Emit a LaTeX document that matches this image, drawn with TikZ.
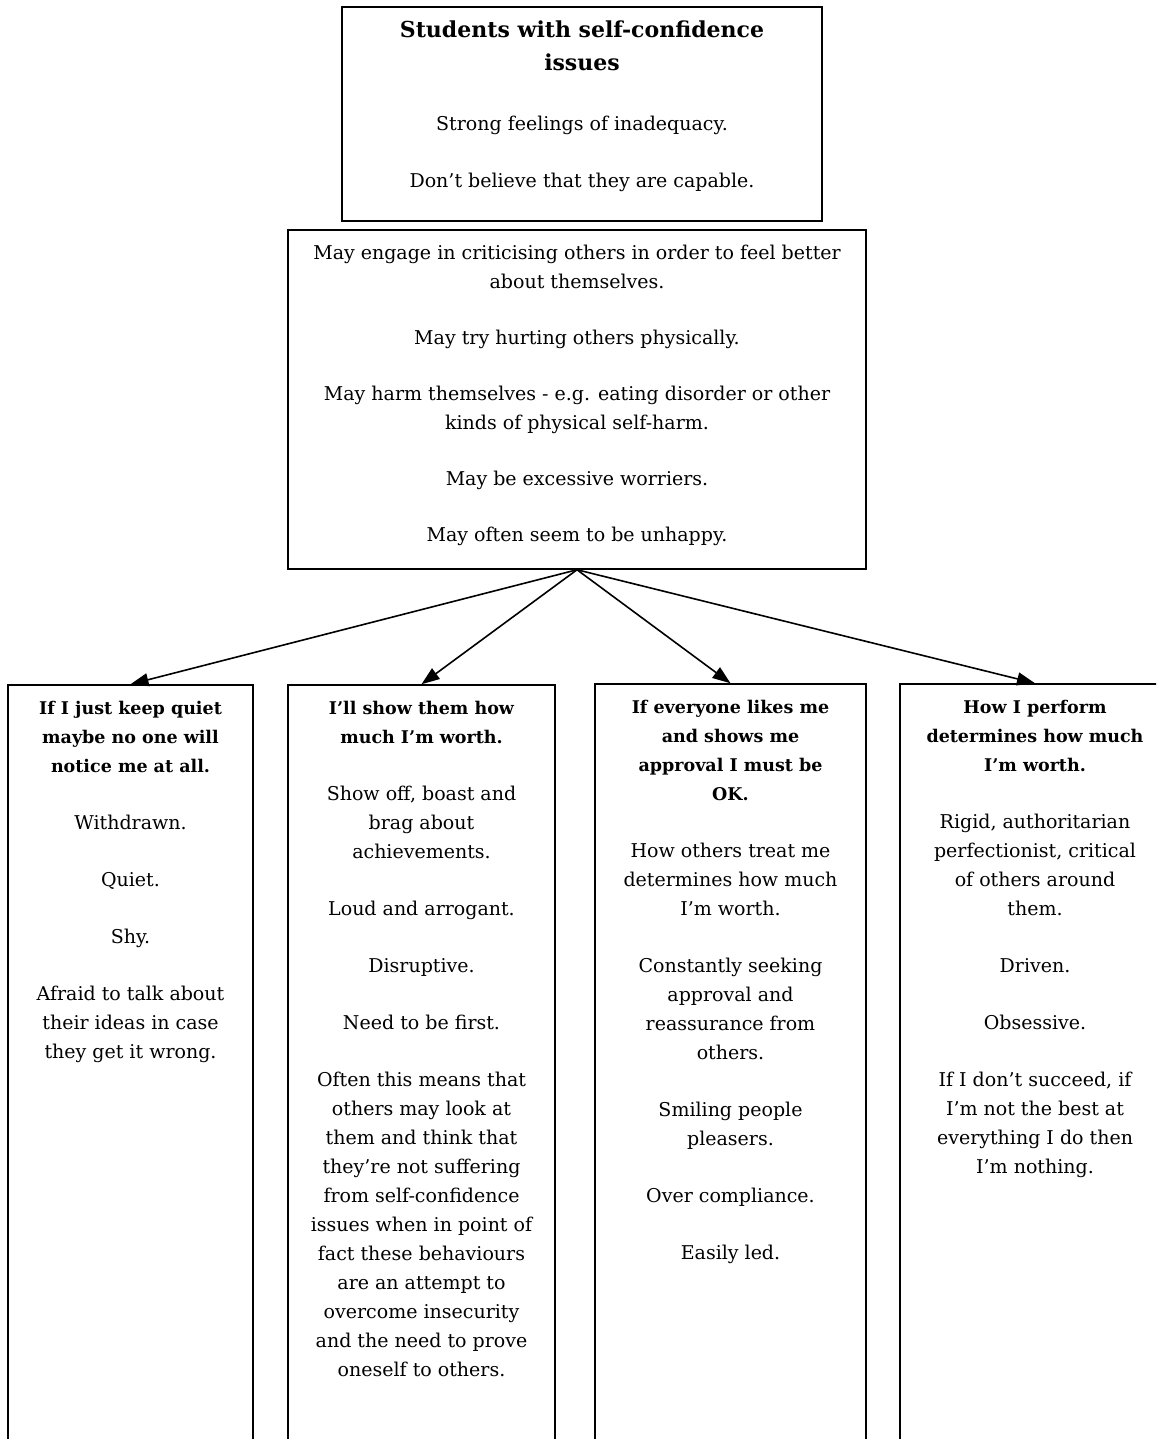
\documentclass[tikz,border=0pt]{standalone}
\usepackage{tikz}
\usepackage{fontspec}
\setmainfont{DejaVu Serif}
\usetikzlibrary{positioning, calc, arrows.meta}

\newcommand{\gap}{\\[28pt]}
\newcommand{\headline}[1]{{\fontsize{17.5}{29}\selectfont\bfseries #1}}

\begin{document}
\begin{tikzpicture}[x=1pt, y=-1pt, >={Triangle[length=18pt, width=13pt]},
    frame/.style={draw, line width=1.5pt, inner sep=0pt},
    txt/.style={align=center, inner sep=0pt, anchor=north, font=\fontsize{19}{29}\selectfont},
    link/.style={->, line width=1.6pt}]

    % Page
    \useasboundingbox (0,0) rectangle (1156,1439);
    \clip (0,0) rectangle (1156,1439);

    % Top boxes
    \node[frame, minimum width=480pt, minimum height=214pt] (top) at (582,114) {};
    \node[frame, minimum width=578pt, minimum height=339pt] (mid) at (577,399.5) {};

    % Columns (running past the bottom edge)
    \node[frame, minimum width=245pt, minimum height=795pt] (quiet) at (130.5,1082.5) {};
    \node[frame, minimum width=267pt, minimum height=795pt] (worth) at (421.5,1082.5) {};
    \node[frame, minimum width=271pt, minimum height=797pt] (liked) at (730.5,1082.5) {};
    \node[frame, minimum width=270pt, minimum height=797pt] (perform) at (1035,1082.5) {};

    % Arrows
    \draw[link] (mid.south) -- (quiet.north);
    \draw[link] (mid.south) -- (worth.north);
    \draw[link] (mid.south) -- (liked.north);
    \draw[link] (mid.south) -- (perform.north);

    % Texts
    \node[txt, font=\fontsize{22}{33}\selectfont\bfseries] (toptitle) at ([yshift=-14pt]top.north)
        {Students with self-confidence\\issues};
    \node[txt, below=45pt of toptitle] (topbody)
        {Strong feelings of inadequacy.\gap
         Don't believe that they are capable.};

    \node[txt] (midbody) at ([yshift=-16pt]mid.north)
        {May engage in criticising others in order to feel better\\about themselves.\\[27pt]
         May try hurting others physically.\\[27pt]
         May harm themselves - e.g. eating disorder or other\\kinds of physical self-harm.\\[27pt]
         May be excessive worriers.\\[27pt]
         May often seem to be unhappy.};

    \node[txt] (quiettext) at ([yshift=-17pt]quiet.north)
        {\headline{If I just keep quiet}\\\headline{maybe no one will}\\\headline{notice me at all.}\gap
         Withdrawn.\gap
         Quiet.\gap
         Shy.\gap
         Afraid to talk about\\their ideas in case\\they get it wrong.};

    \node[txt] (worthtext) at ([yshift=-17pt]worth.north)
        {\headline{I'll show them how}\\\headline{much I'm worth.}\gap
         Show off, boast and\\brag about\\achievements.\gap
         Loud and arrogant.\gap
         Disruptive.\gap
         Need to be first.\gap
         Often this means that\\others may look at\\them and think that\\they're not suffering\\from self-confidence\\issues when in point of\\fact these behaviours\\are an attempt to\\overcome insecurity\\and the need to prove\\oneself to others.};

    \node[txt] (likedtext) at ([yshift=-17pt]liked.north)
        {\headline{If everyone likes me}\\\headline{and shows me}\\\headline{approval I must be}\\\headline{OK.}\gap
         How others treat me\\determines how much\\I'm worth.\gap
         Constantly seeking\\approval and\\reassurance from\\others.\gap
         Smiling people\\pleasers.\gap
         Over compliance.\gap
         Easily led.};

    \node[txt] (performtext) at ([yshift=-17pt]perform.north)
        {\headline{How I perform}\\\headline{determines how much}\\\headline{I'm worth.}\gap
         Rigid, authoritarian\\perfectionist, critical\\of others around\\them.\gap
         Driven.\gap
         Obsessive.\gap
         If I don't succeed, if\\I'm not the best at\\everything I do then\\I'm nothing.};

\end{tikzpicture}
\end{document}
